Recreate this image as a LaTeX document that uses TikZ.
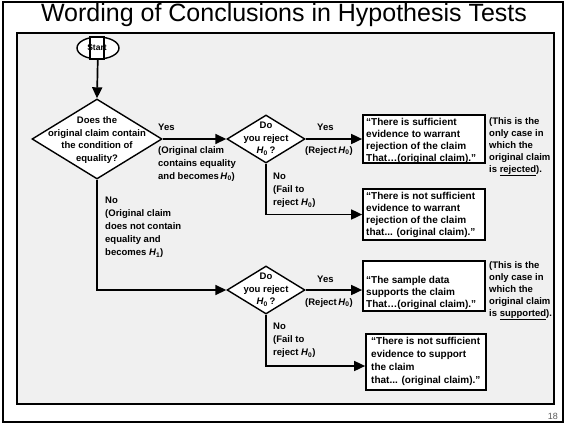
\documentclass[tikz,border=0pt]{standalone}
\usepackage{fontspec}
\setmainfont{Liberation Sans}
\usetikzlibrary{shapes.geometric,arrows.meta}
\newcommand{\Hnull}{\textit{H}\textsubscript{\upshape 0}}
\newcommand{\Hone}{\textit{H}\textsubscript{\upshape 1}}
\begin{document}
\begin{tikzpicture}[x=1pt,y=-1pt,
  every node/.style={inner sep=0pt},
  dia/.style={diamond, draw, line width=1.4pt, fill=white},
  outbox/.style={draw, line width=1.7pt, fill=white},
  arr/.style={line width=1.7pt, -{Triangle[length=11pt,width=10pt]}},
  lbl/.style={font=\fontsize{9.5}{12}\selectfont\bfseries, align=left, anchor=north west},
  lblw/.style={font=\fontsize{9.5}{13}\selectfont\bfseries, align=left, anchor=north west},
  boxtxt/.style={font=\fontsize{10}{12}\selectfont\bfseries, align=left, anchor=north west},
  ctr/.style={font=\fontsize{9.5}{12.5}\selectfont\bfseries, align=center},
]
\useasboundingbox (0,0) rectangle (566,424);
% slide frame and panel
\draw[line width=1.2pt] (3,2) rectangle (563,422);
\draw[line width=1.7pt, fill={rgb,255:red,240;green,240;blue,240}] (17,33) rectangle (554,404);
\node (title) at (284,15) {\fontsize{25}{27}\selectfont Wording of Conclusions in Hypothesis Tests};
\node[text=black!65, font=\fontsize{9}{10}\selectfont, anchor=east] (pg) at (558,416) {18};

% start
\node[ellipse, draw, line width=1.4pt, fill=white, minimum width=42pt, minimum height=22pt] (start) at (98,48) {};
\draw[line width=1.4pt, fill=white] (90,37) rectangle (104,59);
\node[font=\fontsize{8.5}{9}\selectfont\bfseries] (starttxt) at (97,48) {Start};

% decision 1
\node[dia, minimum width=130pt, minimum height=80pt] (d1) at (97,139) {};
\node[ctr] (d1t) at (97,140) {Does the\\original claim contain\\the condition of\\equality?};

% decision 2 and 3
\node[dia, minimum width=78pt, minimum height=48pt] (d2) at (266,139) {};
\node[ctr] (d2t) at (266,139) {Do\\you reject\\\Hnull\,?};
\node[dia, minimum width=78pt, minimum height=48pt] (d3) at (266,290) {};
\node[ctr] (d3t) at (266,290) {Do\\you reject\\\Hnull\,?};

% outcome boxes
\node[outbox, minimum width=122pt, minimum height=48pt] (b1) at (424,139) {};
\node[boxtxt] (b1t) at (366,118) {“There is sufficient\\evidence to warrant\\rejection of the claim\\That…(original claim).”};
\node[outbox, minimum width=122pt, minimum height=51pt] (b2) at (424,214.5) {};
\node[boxtxt] (b2t) at (366,192) {“There is not sufficient\\evidence to warrant\\rejection of the claim\\that... (original claim).”};
\node[outbox, minimum width=122pt, minimum height=50pt] (b3) at (424,286) {};
\node[boxtxt] (b3t) at (366,276) {“The sample data\\supports the claim\\That…(original claim).”};
\node[outbox, minimum width=120pt, minimum height=56pt] (b4) at (426,362) {};
\node[boxtxt, font=\fontsize{10}{13}\selectfont\bfseries] (b4t) at (371,337) {“There is not sufficient\\evidence to support\\the claim\\that... (original claim).”};

% side notes
\node[lbl] (n1) at (489,117) {(This is the\\only case in\\which the\\original claim\\is \underline{rejected}).};
\node[lbl] (n2) at (489,261) {(This is the\\only case in\\which the\\original claim\\is \underline{supported}).};

% connectors
\draw[arr] (start) -- (d1.north);
\draw[arr] (d1.east) -- (d2.west);
\draw[arr] (d2.east) -- (b1.west);
\coordinate (c2) at (b2.west);
\draw[arr] (d2.south) |- (c2);
\draw[arr] (d1.south) |- (d3.west);
\coordinate (c3) at (b3.west |- d3.east);
\draw[arr] (d3.east) -- (c3);
\coordinate (c4) at (b4.west |- 0,366);
\draw[arr] (d3.south) |- (c4);

% branch labels
\node[lbl] (y1) at (158,124) {Yes};
\node[lblw] (y1d) at (158,146) {(Original claim\\contains equality\\and becomes\,\Hnull)};
\node[lblw] (n1l) at (105,197) {No\\(Original claim\\does not contain\\equality and\\becomes \Hone)};
\node[lbl] (y2) at (317,124) {Yes};
\node[lbl] (y2d) at (305,146) {(Reject\,\Hnull)};
\node[lblw] (no2) at (273,173) {No\\(Fail to\\reject \Hnull)};
\node[lbl] (y3) at (317,276) {Yes};
\node[lbl] (y3d) at (305,298) {(Reject\,\Hnull)};
\node[lblw] (no3) at (273,323) {No\\(Fail to\\reject \Hnull)};
\end{tikzpicture}
\end{document}
